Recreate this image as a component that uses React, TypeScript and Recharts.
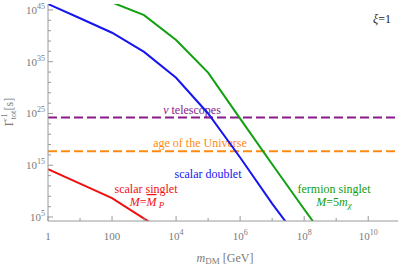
import React from "react";
import { LineChart, Line, XAxis, YAxis, ReferenceLine } from "recharts";

// masses in GeV, lifetimes given as log10(Gamma^-1 / s)
const doubletMass = [1, 10, 100, 1e3, 1e4, 1e5, 1e6, 1e7, 1e8];
const doubletLogTau = [46.15, 43.4, 40.6, 36.9, 31.9, 25.0, 16.5, 7.6, -0.7];

const fermionMass = [100, 1e3, 1e4, 1e5, 1e6, 1e7, 1e8, 1e9];
const fermionLogTau = [46.45, 44.0, 39.2, 32.9, 24.0, 15.2, 6.5, -2.0];

const singletMass = [1, 10, 100, 1e3, 1e4];
const singletLogTau = [14.23, 11.45, 8.65, 4.7, 0.8];

const telescopeLogTau = 24.2;
const universeLogTau = 17.7;

const xTicks = [1, 10, 100, 1e3, 1e4, 1e5, 1e6, 1e7, 1e8, 1e9, 1e10];
const yTicks = [
  1e5, 1e7, 1e9, 1e11, 1e13, 1e15, 1e17, 1e19, 1e21, 1e23, 1e25, 1e27, 1e29,
  1e31, 1e33, 1e35, 1e37, 1e39, 1e41, 1e43, 1e45,
];

const X_DOMAIN = [1, Math.pow(10, 10.93)];
const Y_DOMAIN = [Math.pow(10, 4.23), Math.pow(10, 46.15)];

const AXIS = "#9a9a9a";
const TICK_TEXT = "#7a7a7a";
const FONT = "'Liberation Serif', 'DejaVu Serif', serif";
const SERIF = { fontFamily: FONT };

const BLUE = "#1515f0";
const GREEN = "#10a010";
const RED = "#f01010";
const PURPLE = "#8a1a8a";
const ORANGE = "#ff8a10";

const toSeries = (m: number[], t: number[]) =>
  m.map((v, i) => ({ m: v, tau: Math.pow(10, t[i]) }));

const exp10 = (v: number) => Math.round(Math.log10(v));

function PowLabel({ e }: { e: number }) {
  if (e === 0) return <>1</>;
  if (e === 2) return <>100</>;
  return (
    <>
      10
      <tspan dy={-5} fontSize={8}>
        {e}
      </tspan>
    </>
  );
}

function BottomTick({ x, y, payload }: any) {
  const e = exp10(payload.value);
  const major = e % 2 === 0;
  return (
    <g>
      <line x1={x} x2={x} y1={y} y2={y - (major ? 5 : 3)} stroke={AXIS} />
      {major && (
        <text x={x} y={y + 19} textAnchor="middle" fill={TICK_TEXT} fontSize={11} style={SERIF}>
          <PowLabel e={e} />
        </text>
      )}
    </g>
  );
}

function TopTick({ x, y, payload }: any) {
  const e = exp10(payload.value);
  const major = e % 2 === 0;
  return <line x1={x} x2={x} y1={y} y2={y + (major ? 5 : 3)} stroke={AXIS} />;
}

function LeftTick({ x, y, payload }: any) {
  const e = exp10(payload.value);
  const major = (e - 5) % 10 === 0;
  return (
    <g>
      <line x1={x} x2={x + (major ? 5 : 3)} y1={y} y2={y} stroke={AXIS} />
      {major && (
        <text x={x - 3} y={y + 4} textAnchor="end" fill={TICK_TEXT} fontSize={11} style={SERIF}>
          10
          <tspan dy={-5} fontSize={8}>
            {e}
          </tspan>
        </text>
      )}
    </g>
  );
}

function RightTick({ x, y, payload }: any) {
  const e = exp10(payload.value);
  const major = (e - 5) % 10 === 0;
  return <line x1={x} x2={x - (major ? 5 : 3)} y1={y} y2={y} stroke={AXIS} />;
}

export default function App() {
  return (
    <div style={{ position: "absolute", left: 0, top: 0, width: 407, height: 266, background: "#fff" }}>
      <LineChart width={407} height={266} margin={{ top: 4, right: 9, bottom: 0, left: 0 }}>
        <XAxis
          dataKey="m"
          type="number"
          scale="log"
          domain={X_DOMAIN}
          allowDataOverflow
          ticks={xTicks}
          interval={0}
          tickSize={0}
          tickMargin={0}
          tick={BottomTick}
          height={45}
          stroke={AXIS}
        />
        <XAxis
          xAxisId="top"
          orientation="top"
          type="number"
          scale="log"
          domain={X_DOMAIN}
          allowDataOverflow
          ticks={xTicks}
          interval={0}
          tickSize={0}
          tickMargin={0}
          tick={TopTick}
          height={0}
          stroke={AXIS}
        />
        <YAxis
          dataKey="tau"
          type="number"
          scale="log"
          domain={Y_DOMAIN}
          allowDataOverflow
          ticks={yTicks}
          interval={0}
          tickSize={0}
          tickMargin={0}
          tick={LeftTick}
          width={48}
          stroke={AXIS}
        />
        <YAxis
          yAxisId="right"
          orientation="right"
          type="number"
          scale="log"
          domain={Y_DOMAIN}
          allowDataOverflow
          ticks={yTicks}
          interval={0}
          tickSize={0}
          tickMargin={0}
          tick={RightTick}
          width={0}
          stroke={AXIS}
        />

        <ReferenceLine
          y={Math.pow(10, telescopeLogTau)}
          stroke={PURPLE}
          strokeWidth={2}
          strokeDasharray="9 4"
        />
        <ReferenceLine
          y={Math.pow(10, universeLogTau)}
          stroke={ORANGE}
          strokeWidth={2}
          strokeDasharray="9 4"
        />

        <Line
          data={toSeries(singletMass, singletLogTau)}
          dataKey="tau"
          stroke={RED}
          strokeWidth={2}
          dot={false}
          isAnimationActive={false}
        />
        <Line
          data={toSeries(doubletMass, doubletLogTau)}
          dataKey="tau"
          stroke={BLUE}
          strokeWidth={2}
          dot={false}
          isAnimationActive={false}
        />
        <Line
          data={toSeries(fermionMass, fermionLogTau)}
          dataKey="tau"
          stroke={GREEN}
          strokeWidth={2}
          dot={false}
          isAnimationActive={false}
        />

        <g fontSize={12} textAnchor="middle" style={SERIF}>
          <text x={192} y={114} fill={PURPLE} style={SERIF}>
            <tspan fontStyle="italic">ν</tspan> telescopes
          </text>
          <text x={200} y={147} fill={ORANGE} style={SERIF}>
            age of the Universe
          </text>
          <text x={208} y={178} fill={BLUE} style={SERIF}>
            scalar doublet
          </text>
          <text x={146} y={193} fill={RED} style={SERIF}>
            scalar singlet
          </text>
          <text x={147} y={206} fill={RED} style={SERIF}>
            <tspan fontStyle="italic">M</tspan>=
            <tspan fontStyle="italic" textDecoration="overline">M</tspan>
            <tspan fontStyle="italic" fontSize={9} dy={2}> P</tspan>
          </text>
          <text x={334} y={193} fill={GREEN} style={SERIF}>
            fermion singlet
          </text>
          <text x={334} y={206} fill={GREEN} style={SERIF}>
            <tspan fontStyle="italic">M</tspan>=5
            <tspan fontStyle="italic">m</tspan>
            <tspan fontStyle="italic" fontSize={9} dy={2}>χ</tspan>
          </text>
          <text x={382} y={23} fill="#222" style={SERIF}>
            <tspan fontStyle="italic">ξ</tspan>=1
          </text>
          <text x={225} y={262} fill={TICK_TEXT} style={SERIF}>
            <tspan fontStyle="italic">m</tspan>
            <tspan fontSize={9} dy={2}>DM</tspan>
            <tspan dy={-2}> [GeV]</tspan>
          </text>
          <g transform="translate(13,112) rotate(-90)">
            <text x={0} y={0} fill={TICK_TEXT} style={SERIF}>
              Γ
              <tspan fontSize={8} dy={3}>tot</tspan>
              <tspan fontSize={8} dx={-11} dy={-9}>−1</tspan>
              <tspan dy={6}> [s]</tspan>
            </text>
          </g>
        </g>
      </LineChart>
    </div>
  );
}
